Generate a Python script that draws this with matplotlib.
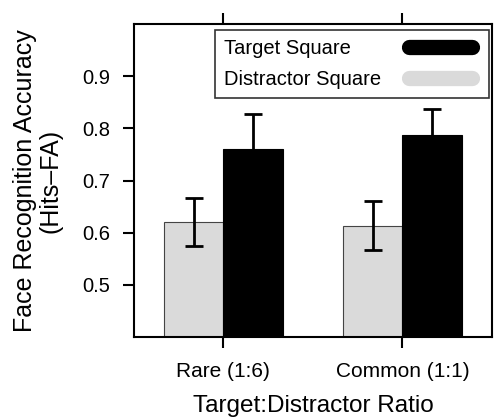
import numpy as np
import matplotlib.pyplot as plt
from matplotlib.lines import Line2D
from matplotlib.legend_handler import HandlerLine2D

plt.rcParams['font.family'] = ['Liberation Sans', 'DejaVu Sans']

categories = ['Rare (1:6)', 'Common (1:1)']
distractor_mean = [0.620, 0.613]
distractor_err = [0.046, 0.047]
target_mean = [0.761, 0.788]
target_err = [0.066, 0.050]
yticks = [0.5, 0.6, 0.7, 0.8, 0.9]

fig = plt.figure(figsize=(4.94, 4.17), dpi=100)
ax = fig.add_axes([0.271, 0.192, 0.725, 0.750])

x = np.arange(1, len(categories) + 1)
w = 1 / 3
ekw = dict(ecolor='black', elinewidth=2, capsize=6.5, capthick=2)
ax.bar(x - w / 2, distractor_mean, width=w, color='#dadada', edgecolor='#444444', linewidth=0.8,
       yerr=distractor_err, error_kw=ekw)
ax.bar(x + w / 2, target_mean, width=w, color='black', edgecolor='black', linewidth=0.8,
       yerr=target_err, error_kw=ekw)

ax.set_xlim(0.5, 2.5)
ax.set_ylim(0.4, 1.0)
ax.set_yticks(yticks)
ax.set_yticklabels([f'{v:.1f}' for v in yticks], fontsize=14.5)
ax.set_xticks(x)
ax.set_xticklabels(categories, fontsize=15)
ax.tick_params(axis='x', top=True, direction='out', length=8, width=1.5, pad=10)
ax.tick_params(axis='y', direction='out', length=8, width=1.5, pad=9)
for s in ax.spines.values():
    s.set_linewidth(1.5)

ax.set_xlabel('Target:Distractor Ratio', fontsize=17.5, labelpad=10)
ax.set_ylabel('Face Recognition Accuracy\n(Hits\u2013FA)', fontsize=18, labelpad=14, linespacing=1.1)

# thick pill-shaped handles, inset so the round caps stay inside the frame
handles = [Line2D([0], [0], color='black', lw=11, solid_capstyle='round'),
           Line2D([0], [0], color='#dadada', lw=11, solid_capstyle='round')]
pill = HandlerLine2D(marker_pad=0.38, numpoints=2)
leg = ax.legend(handles, ['Target Square', 'Distractor Square'], loc='upper right',
                bbox_to_anchor=(0.992, 0.981), fontsize=14.5, markerfirst=False,
                handler_map={h: pill for h in handles},
                handlelength=3.9, fancybox=False, framealpha=1, edgecolor='#333333',
                borderpad=0.45, labelspacing=0.6, handletextpad=1.0, borderaxespad=0)
leg.get_frame().set_linewidth(1.2)

# left-align the label texts while keeping the handles in one column
fig.canvas.draw()
r = fig.canvas.get_renderer()
widths = [t.get_window_extent(r).width for t in leg.get_texts()]
rows = leg._legend_handle_box.get_children()[0].get_children()
for row, wd in zip(rows, widths):
    row.sep += (max(widths) - wd) * 72 / fig.dpi

fig.savefig('out.png', dpi=100)
